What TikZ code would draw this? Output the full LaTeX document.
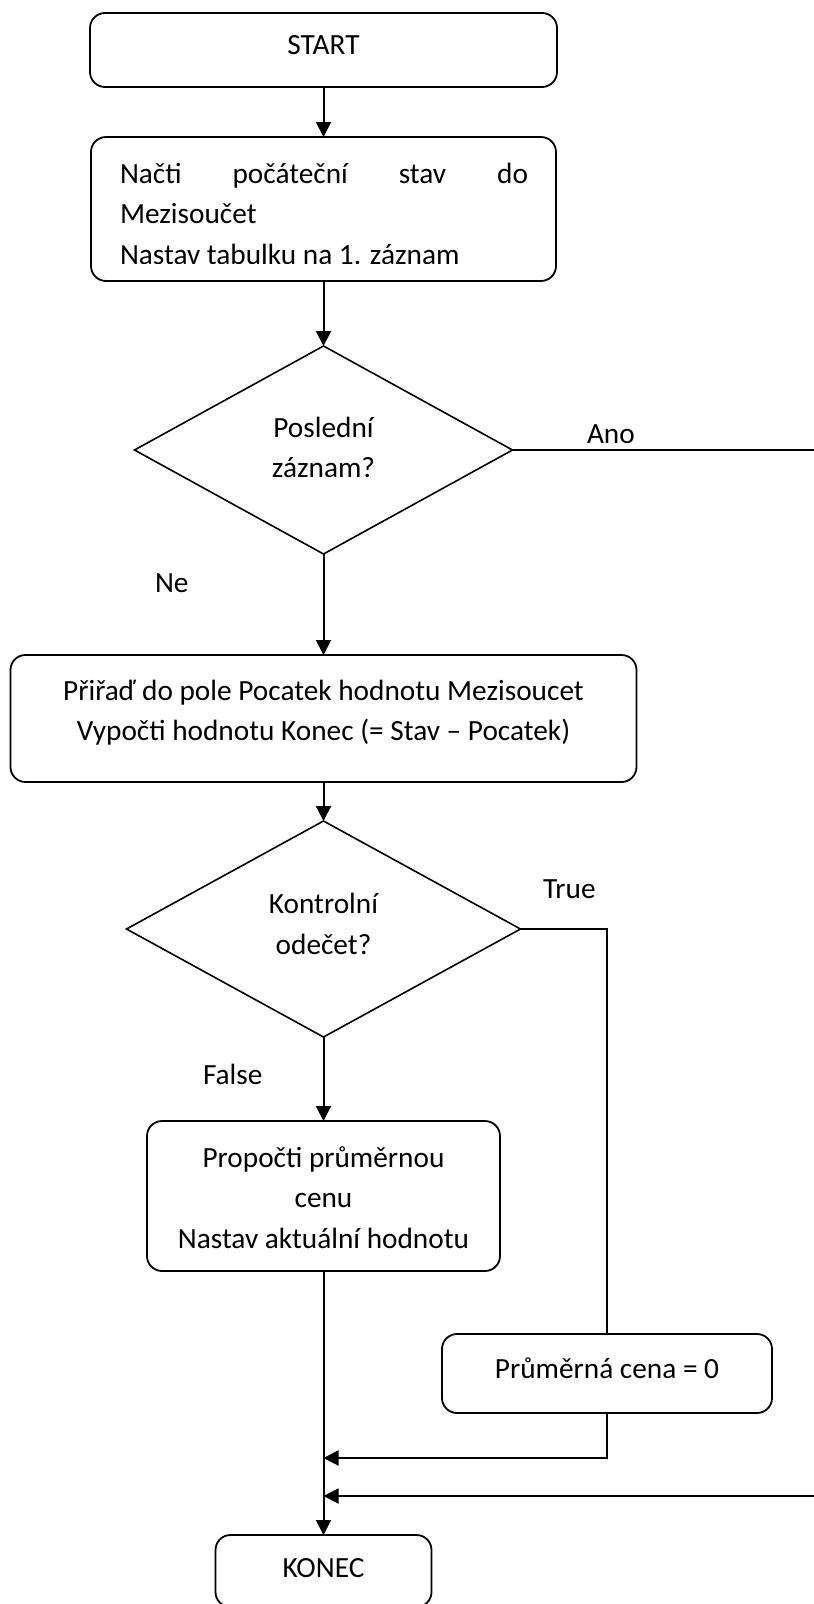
\documentclass[tikz,border=0pt]{standalone}
\usepackage{fontspec}
\setmainfont{Carlito}
\usetikzlibrary{shapes.geometric,arrows.meta}
\begin{document}
\begin{tikzpicture}[x=1pt,y=-1pt,
  box/.style={draw, rectangle, rounded corners=15pt, line width=1.8pt, inner sep=0pt, outer sep=0pt},
  decision/.style={draw, diamond, line width=1.6pt, inner sep=0pt, outer sep=0pt},
  txt/.style={inner sep=0pt, outer sep=0pt, font=\fontsize{29.3}{35}\selectfont},
  flow/.style={line width=2pt, -{Triangle[length=15pt,width=15pt]}},
  thinline/.style={line width=1.3pt}]
\useasboundingbox (0,0) rectangle (814,1604);
\clip (0,0) rectangle (814,1604);
\fill[white] (0,0) rectangle (814,1604);

% boxes and decisions
\node[box, minimum width=467, minimum height=74] (start) at (323.5,50) {};
\node[box, minimum width=465, minimum height=144] (init) at (323.5,209) {};
\node[decision, minimum width=378, minimum height=208] (last) at (323.5,450) {};
\node[box, minimum width=626, minimum height=127] (assign) at (323.5,718.5) {};
\node[decision, minimum width=394, minimum height=216] (check) at (323.5,929) {};
\node[box, minimum width=353, minimum height=150] (avg) at (323.5,1196) {};
\node[box, minimum width=330, minimum height=79] (zero) at (607,1373.5) {};
\node[box, minimum width=216, minimum height=72] (konec) at (323.5,1571) {};

% texts
\node[txt, anchor=base] (tstart) at (323.5,54) {START};
\node[txt, anchor=base west] (tinit1) at (120,183) {\hbox to 408pt{Načti\hfill počáteční\hfill stav\hfill do}};
\node[txt, anchor=base west] (tinit2) at (120,223) {Mezisoučet};
\begin{scope}
  % the last line overflows the text area and is cut at its lower edge
  \clip (init.north west) rectangle (557,263.5);
  \node[txt, anchor=base west] (tinit3) at (120,264.5) {Nastav tabulku na 1. záznam};
\end{scope}
\node[txt, anchor=base] (tlast1) at (323.5,437) {Poslední};
\node[txt, anchor=base] (tlast2) at (323.5,477) {záznam?};
\node[txt, anchor=base west] (tano) at (587,443) {Ano};
\node[txt, anchor=base west] (tne) at (155,592) {Ne};
\node[txt, anchor=base] (tassign1) at (323.5,700) {Přiřaď do pole Pocatek hodnotu Mezisoucet};
\node[txt, anchor=base] (tassign2) at (323.5,740) {Vypočti hodnotu Konec (= Stav – Pocatek)};
\node[txt, anchor=base] (tcheck1) at (323.5,913) {Kontrolní};
\node[txt, anchor=base] (tcheck2) at (323.5,954) {odečet?};
\node[txt, anchor=base west] (ttrue) at (543,898) {True};
\node[txt, anchor=base west] (tfalse) at (203,1084) {False};
\node[txt, anchor=base] (tavg1) at (323.5,1167) {Propočti průměrnou};
\node[txt, anchor=base] (tavg2) at (323.5,1207) {cenu};
\node[txt, anchor=base] (tavg3) at (323.5,1248) {Nastav aktuální hodnotu};
\node[txt, anchor=base] (tzero) at (607,1378) {Průměrná cena = 0};
\node[txt, anchor=base] (tkonec) at (323.5,1577) {KONEC};

% junction points on the main line
\coordinate (j1) at (323.5,1458);
\coordinate (j2) at (323.5,1496);

% connectors
\draw[flow] (start.south) -- (init.north);
\draw[flow] (init.south) -- (last.north);
\draw[flow] (last.south) -- (assign.north);
\draw[flow] (assign.south) -- (check.north);
\draw[flow] (check.south) -- (avg.north);
\draw[flow] (avg.south) -- (konec.north);
\draw[thinline] (check.east) -| (zero.north);
\draw[flow] (zero.south) |- (j1);
\draw[flow, line width=1.8pt] (last.east) -- (822,450) -- (822,1496) -- (j2);
\end{tikzpicture}
\end{document}
